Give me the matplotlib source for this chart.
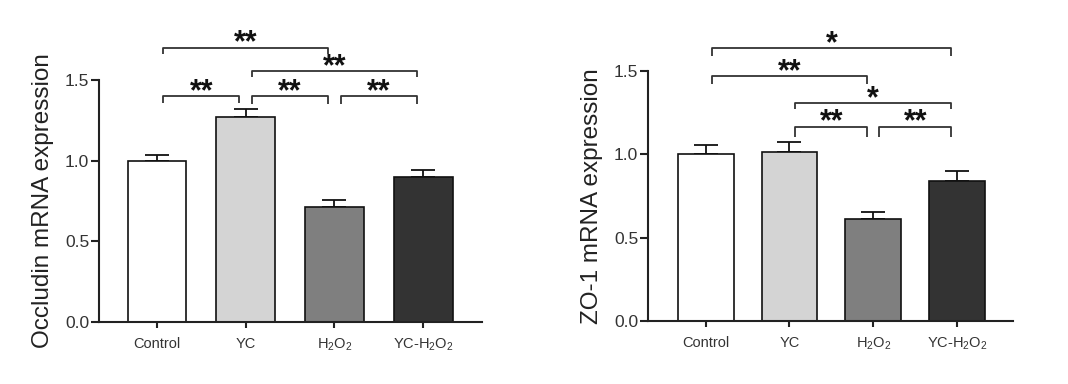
import matplotlib
matplotlib.use('Agg')
import matplotlib.pyplot as plt

plt.rcParams['font.family'] = ['Liberation Sans', 'DejaVu Sans']
plt.rcParams['mathtext.fontset'] = 'custom'
plt.rcParams['mathtext.rm'] = 'Liberation Sans'

# data
groups = ['Control', 'YC', r'$\mathregular{H_2O_2}$', r'YC-$\mathregular{H_2O_2}$']
occludin_mean = [1.00, 1.27, 0.715, 0.90]
occludin_sem = [0.035, 0.05, 0.043, 0.042]
zo1_mean = [1.00, 1.016, 0.614, 0.842]
zo1_sem = [0.054, 0.056, 0.040, 0.060]

# significance comparisons: (group a, group b, label)
occludin_sig = [(0, 1, '**'), (1, 2, '**'), (2, 3, '**'), (1, 3, '**'), (0, 2, '**')]
zo1_sig = [(0, 3, '*'), (0, 2, '**'), (1, 3, '*'), (1, 2, '**'), (2, 3, '**')]

# bracket layout (line height, drop length) for each comparison
occludin_brk = [(1.40, 0.045), (1.40, 0.05), (1.40, 0.05), (1.557, 0.04), (1.70, 0.04)]
zo1_brk = [(1.636, 0.045), (1.47, 0.05), (1.306, 0.035), (1.166, 0.06), (1.166, 0.06)]

bar_colors = ['#ffffff', '#d4d4d4', '#7f7f7f', '#333333']
ink = '#222222'

fig = plt.figure(figsize=(10.68, 3.84), dpi=100)
ax1 = fig.add_axes([0.0927, 0.1615, 0.3586, 0.6302])
ax2 = fig.add_axes([0.6067, 0.1641, 0.3418, 0.6510])


def draw(ax, means, sems, sig, brk, ylabel, xlim):
    x = range(len(means))
    ax.bar(x, means, width=0.665, color=bar_colors, edgecolor='#111111',
           linewidth=1.2, zorder=2)
    ax.errorbar(x, means, yerr=[[0] * len(sems), sems], fmt='none',
                ecolor='#111111', elinewidth=1.3, capsize=8.5, capthick=1.3,
                zorder=1)
    ax.set_xlim(*xlim)
    ax.set_ylim(0, 1.5)
    ax.set_yticks([0.0, 0.5, 1.0, 1.5])
    ax.set_yticklabels(['0.0', '0.5', '1.0', '1.5'])
    ax.set_xticks(list(x))
    ax.set_xticklabels(groups, fontsize=10.5, color='#333333')
    for s in ['top', 'right']:
        ax.spines[s].set_visible(False)
    for s in ['left', 'bottom']:
        ax.spines[s].set_linewidth(1.5)
        ax.spines[s].set_color(ink)
    ax.tick_params(axis='y', length=6, width=1.5, color=ink, pad=1,
                   labelsize=12.5, labelcolor='#333333')
    ax.tick_params(axis='x', length=4.5, width=1.5, color=ink, pad=6)
    ax.set_ylabel(ylabel, fontsize=17.5, color='#222222', labelpad=8)

    for (a, b, lab), (h, d) in zip(sig, brk):
        x0 = a + 0.07
        x1 = b - 0.07
        ax.plot([x0, x0, x1, x1], [h - d, h, h, h - d], color='#333333',
                lw=1.3, clip_on=False, solid_capstyle='butt')
        ax.annotate(lab, xy=((x0 + x1) / 2, h), xytext=(0, -4),
                    textcoords='offset pixels', ha='center', va='baseline',
                    fontsize=22, fontweight='bold', color='#111111',
                    annotation_clip=False)


draw(ax1, occludin_mean, occludin_sem, occludin_sig, occludin_brk,
     'Occludin mRNA expression', (-0.654, 3.665))
draw(ax2, zo1_mean, zo1_sem, zo1_sig, zo1_brk,
     'ZO-1 mRNA expression', (-0.689, 3.667))

fig.savefig('out.png', dpi=100, facecolor='white')
